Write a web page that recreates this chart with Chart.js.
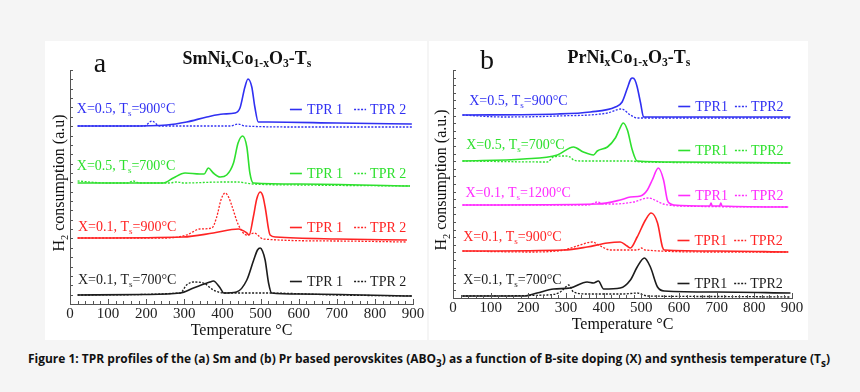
<!DOCTYPE html>
<html>
<head>
<meta charset="utf-8">
<script src="https://cdn.jsdelivr.net/npm/chart.js@4.4.1/dist/chart.umd.min.js"></script>
<style>
html, body { margin: 0; padding: 0; background: #f5f5f5; }
body { width: 860px; height: 392px; position: relative; overflow: hidden; }
.panel { position: absolute; top: 41px; height: 299px; background: #fff; }
#pa { left: 45px; width: 382px; }
#pb { left: 429px; width: 379px; }
canvas { display: block; }
#cap { position: absolute; top: 349px; left: 0; width: 860px; height: 20px; }
#capText { position: absolute; left: 0; top: 0; white-space: nowrap; font: bold 13px "Open Sans"; color: #111; transform-origin: 0 0; }
</style>
</head>
<body>
<div class="panel" id="pa"><canvas id="chartA" width="382" height="299"></canvas></div>
<div class="panel" id="pb"><canvas id="chartB" width="379" height="299"></canvas></div>
<div id="cap"><span id="capText">Figure 1: TPR profiles of the (a) Sm and (b) Pr based perovskites (ABO<sub>3</sub>) as a function of B-site doping (X) and synthesis temperature (T<sub>s</sub>)</span></div>
<script>
// temperature (°C), H2 signal (a.u., offset per curve)
var smX05T900_tpr1 = [[20,178],[150,178],[254,179],[306,182],[359,187],[402,190],[433,191],[446,196],[459,217],[467,225],[477,217],[485,197],[494,182],[520,182],[700,181],[897,180]];
var smX05T900_tpr2 = [[20,178],[195,178],[215,183],[235,178],[420,178],[441,180],[460,178],[600,177],[897,177]];
var smX05T700_tpr1 = [[20,121],[245,121],[271,126],[302,131],[341,130],[352,130],[363,136],[376,131],[394,127],[411,129],[429,141],[441,161],[453,168],[464,157],[472,131],[481,121],[600,120],[892,118]];
var smX05T700_tpr2 = [[20,123],[96,121],[150,121],[166,123],[182,121],[260,121],[280,122],[300,121],[400,122],[440,122],[480,120],[600,119],[892,118]];
var smX01T900_tpr1 = [[20,66],[297,67],[376,71],[442,75],[464,71],[470,69],[481,87],[490,105],[499,112],[506,108],[512,97],[525,69],[540,67],[700,65],[884,64]];
var smX01T900_tpr2 = [[20,66],[250,66],[306,69],[341,75],[372,76],[385,87],[396,104],[407,111],[416,107],[424,99],[442,79],[464,69],[483,71],[507,65],[700,63],[884,62]];
var smX01T700_tpr1 = [[20,9],[192,9.5],[289,11],[324,16],[367,22],[376,23],[394,16],[403,11],[437,12],[464,24],[482,44],[492,54],[499,56],[505,53],[512,44],[521,21],[529,11],[600,10],[897,8]];
var smX01T700_tpr2 = [[20,9],[289,11],[306,19],[324,22],[350,21],[376,14],[403,11],[516,11],[700,9],[897,8]];

var prX05T900_tpr1 = [[25,183],[277,184],[365,186],[431,191],[449,196],[463,210],[472,219],[477,220],[483,218],[489,211],[498,195],[506,181],[600,181],[896,181]];
var prX05T900_tpr2 = [[25,183],[134,181],[277,182],[410,185],[447,189],[471,183],[489,180],[700,180],[896,180]];
var prX05T700_tpr1 = [[25,137],[187,139],[277,143],[320,151],[346,146],[373,143],[383,147],[410,151],[431,160],[441,168],[452,175],[463,168],[476,148],[489,137],[600,136],[896,135]];
var prX05T700_tpr2 = [[25,137],[250,136],[267,141],[294,142],[311,141],[320,138],[340,137],[471,137],[500,136],[896,135]];
var prX01T1200_tpr1 = [[25,93],[383,94],[444,98],[471,101],[498,102],[516,108],[529,118],[545,130],[559,118],[569,98],[578,94],[586,93],[682,92],[685,95],[688,92],[708,92],[711,95],[714,92],[890,91]];
var prX01T1200_tpr2 = [[25,93],[360,93],[383,96],[400,94],[426,94],[480,96],[518,100],[559,94],[600,92],[890,91]];
var prX01T900_tpr1 = [[25,47],[294,48],[356,51],[410,55],[444,56],[462,52],[471,50],[489,61],[511,78],[526,85],[543,75],[556,51],[561,48],[700,47],[890,46]];
var prX01T900_tpr2 = [[25,47],[205,46],[294,48],[330,52],[370,56],[391,52],[418,48],[490,48],[500,50],[510,48],[700,46],[890,46]];
var prX01T700_tpr1 = [[25,2],[187,2],[223,5],[267,9],[311,10],[356,16],[373,15],[386,17],[400,9],[444,10],[471,18],[489,31],[508,40],[524,31],[543,11],[561,7],[700,6],[896,5]];
var prX01T700_tpr2 = [[25,2],[250,3],[285,6],[299,11],[307,13],[320,6],[356,4],[452,4],[489,5],[516,2],[700,1.5],[896,1]];

var xTicks = [0, 100, 200, 300, 400, 500, 600, 700, 800, 900];

var BLUE = '#3030f2', GREEN = '#2ee02e', RED = '#ff2424', MAGENTA = '#ff2cff', BLACK = '#1c1c1c';

var pts = function (arr) {
    return arr.map(function (p) { return { x: p[0], y: p[1] }; });
};

var line = function (arr, color, dotted) {
    return {
        data: pts(arr),
        borderColor: color,
        borderWidth: dotted ? 1.3 : 1.6,
        borderDash: dotted ? [2, 1.5] : [],
        pointRadius: 0,
        fill: false,
        tension: 0.4,
        cubicInterpolationMode: 'monotone'
    };
};

// text with subscripts: parts = [[text, isSub], ...]
var richText = function (ctx, parts, x, y, size, bold, align, color) {
    var wt = bold ? 'bold ' : '';
    var w = 0;
    parts.forEach(function (p) {
        ctx.font = wt + (p[1] ? size * 0.65 : size) + 'px "Liberation Serif"';
        w += ctx.measureText(p[0]).width;
    });
    var cx = align === 'center' ? x - w / 2 : x;
    ctx.textBaseline = 'middle';
    ctx.textAlign = 'left';
    ctx.fillStyle = color;
    parts.forEach(function (p) {
        ctx.font = wt + (p[1] ? size * 0.65 : size) + 'px "Liberation Serif"';
        ctx.fillText(p[0], cx, y + (p[1] ? size * 0.3 : 0));
        cx += ctx.measureText(p[0]).width;
    });
};

var extras = {
    id: 'extras',
    afterDraw: function (chart, args, o) {
        var ctx = chart.ctx, a = chart.chartArea, x = chart.scales.x, y = chart.scales.y;
        ctx.save();
        // inward ticks
        ctx.strokeStyle = '#555';
        ctx.lineWidth = 1;
        ctx.beginPath();
        for (var t = 0; t <= 900; t += 20) {
            var px = Math.round(x.getPixelForValue(t)) + 0.5;
            ctx.moveTo(px, a.bottom);
            ctx.lineTo(px, a.bottom - (t % 100 === 0 ? 5 : 3));
        }
        for (var v = 0; v <= y.max + 0.01; v += o.yStep) {
            var py = Math.round(y.getPixelForValue(v)) + 0.5;
            ctx.moveTo(a.left, py);
            ctx.lineTo(a.left + 3, py);
        }
        ctx.stroke();

        // titles
        richText(ctx, o.title, o.titlePos[0], o.titlePos[1], 18, true, 'center', '#111');
        ctx.font = '28px "Liberation Serif"';
        ctx.fillStyle = '#111';
        ctx.textAlign = 'center';
        ctx.textBaseline = 'middle';
        ctx.fillText(o.letter, o.letterPos[0], o.letterPos[1]);

        ctx.save();
        ctx.translate(o.yTitlePos[0], o.yTitlePos[1]);
        ctx.rotate(-Math.PI / 2);
        richText(ctx, [['H', 0], ['2', 1], [' consumption ' + o.yUnit, 0]], 0, 0, 16, false, 'center', '#111');
        ctx.restore();

        // curve labels and per-curve legends
        o.groups.forEach(function (g) {
            var lx = x.getPixelForValue(g.label[0]), ly = y.getPixelForValue(g.label[1]);
            richText(ctx, [['X=' + g.x + ', T', 0], ['s', 1], ['=' + g.ts + '°C', 0]], lx, ly, 14, false, 'left', g.color);

            var gx = x.getPixelForValue(g.legend[0]), gy = Math.round(y.getPixelForValue(g.legend[1])) + 0.5;
            ctx.strokeStyle = g.color;
            ctx.lineWidth = 1.6;
            ctx.setLineDash([]);
            ctx.beginPath(); ctx.moveTo(gx, gy); ctx.lineTo(gx + 12, gy); ctx.stroke();
            ctx.font = '14px "Liberation Serif"';
            ctx.fillStyle = g.color;
            ctx.textAlign = 'left';
            ctx.fillText(o.names[0], gx + 17, gy + 1);
            var dx = gx + 17 + ctx.measureText(o.names[0]).width + o.gap;
            ctx.lineWidth = 1.3;
            ctx.setLineDash([2, 1.5]);
            ctx.beginPath(); ctx.moveTo(dx, gy); ctx.lineTo(dx + 12, gy); ctx.stroke();
            ctx.setLineDash([]);
            ctx.fillText(o.names[1], dx + 16, gy + 1);
        });
        ctx.restore();
    }
};

var scalesFor = function (ymax) {
    return {
        x: {
            type: 'linear', min: 0, max: 900,
            afterBuildTicks: function (s) { s.ticks = xTicks.map(function (v) { return { value: v }; }); },
            ticks: { color: '#222', font: { family: 'Liberation Serif', size: 15 }, padding: 1, maxRotation: 0 },
            grid: { display: false, drawTicks: false },
            border: { display: true, color: '#555', width: 1 },
            title: { display: true, text: 'Temperature °C', color: '#111', font: { family: 'Liberation Serif', size: 16 }, padding: { top: 0, bottom: 0 } },
            afterFit: function (s) { s.height = 36; }
        },
        y: {
            type: 'linear', min: 0, max: ymax,
            ticks: { display: false },
            grid: { display: false, drawTicks: false },
            border: { display: true, color: '#555', width: 1 },
            afterFit: function (s) { s.width = 0; }
        }
    };
};

new Chart(document.getElementById('chartA'), {
    type: 'line',
    data: {
        datasets: [
            line(smX05T900_tpr1, BLUE), line(smX05T900_tpr2, BLUE, true),
            line(smX05T700_tpr1, GREEN), line(smX05T700_tpr2, GREEN, true),
            line(smX01T900_tpr1, RED), line(smX01T900_tpr2, RED, true),
            line(smX01T700_tpr1, BLACK), line(smX01T700_tpr2, BLACK, true)
        ]
    },
    options: {
        responsive: false,
        animation: false,
        layout: { padding: { left: 25, right: 14, top: 29, bottom: 0 } },
        scales: scalesFor(234),
        plugins: {
            legend: { display: false },
            tooltip: { enabled: false },
            extras: {
                yStep: 234 / 25,
                title: [['SmNi', 0], ['x', 1], ['Co', 0], ['1-x', 1], ['O', 0], ['3', 1], ['-T', 0], ['s', 1]],
                titlePos: [202, 18],
                letter: 'a', letterPos: [55, 24],
                yTitlePos: [15, 142], yUnit: '(a.u)',
                names: ['TPR 1', 'TPR 2'], gap: 11,
                groups: [
                    { x: '0.5', ts: '900', color: BLUE, label: [18, 195], legend: [577, 195] },
                    { x: '0.5', ts: '700', color: GREEN, label: [18, 138], legend: [577, 131] },
                    { x: '0.1', ts: '900', color: RED, label: [21, 77], legend: [577, 77] },
                    { x: '0.1', ts: '700', color: BLACK, label: [21, 24], legend: [577, 23] }
                ]
            }
        }
    },
    plugins: [extras]
});

new Chart(document.getElementById('chartB'), {
    type: 'line',
    data: {
        datasets: [
            line(prX05T900_tpr1, BLUE), line(prX05T900_tpr2, BLUE, true),
            line(prX05T700_tpr1, GREEN), line(prX05T700_tpr2, GREEN, true),
            line(prX01T1200_tpr1, MAGENTA), line(prX01T1200_tpr2, MAGENTA, true),
            line(prX01T900_tpr1, RED), line(prX01T900_tpr2, RED, true),
            line(prX01T700_tpr1, BLACK), line(prX01T700_tpr2, BLACK, true)
        ]
    },
    options: {
        responsive: false,
        animation: false,
        layout: { padding: { left: 24, right: 16, top: 29, bottom: 6 } },
        scales: scalesFor(228),
        plugins: {
            legend: { display: false },
            tooltip: { enabled: false },
            extras: {
                yStep: 228 / 30,
                title: [['PrNi', 0], ['x', 1], ['Co', 0], ['1-x', 1], ['O', 0], ['3', 1], ['-T', 0], ['s', 1]],
                titlePos: [200, 17],
                letter: 'b', letterPos: [58, 21],
                yTitlePos: [13, 139], yUnit: '(a.u.)',
                names: ['TPR1', 'TPR2'], gap: 7,
                groups: [
                    { x: '0.5', ts: '900', color: BLUE, label: [43, 197], legend: [598, 192] },
                    { x: '0.5', ts: '700', color: GREEN, label: [35, 153], legend: [598, 148] },
                    { x: '0.1', ts: '1200', color: MAGENTA, label: [33, 105], legend: [598, 103] },
                    { x: '0.1', ts: '900', color: RED, label: [27, 61], legend: [596, 58] },
                    { x: '0.1', ts: '700', color: BLACK, label: [27, 18], legend: [596, 15] }
                ]
            }
        }
    },
    plugins: [extras]
});

// fit caption to its width in the figure
var cap = document.getElementById('capText');
var w = cap.getBoundingClientRect().width;
var k = 802 / w;
cap.style.transform = 'scaleX(' + k + ')';
cap.style.left = '28px';
</script>
</body>
</html>
